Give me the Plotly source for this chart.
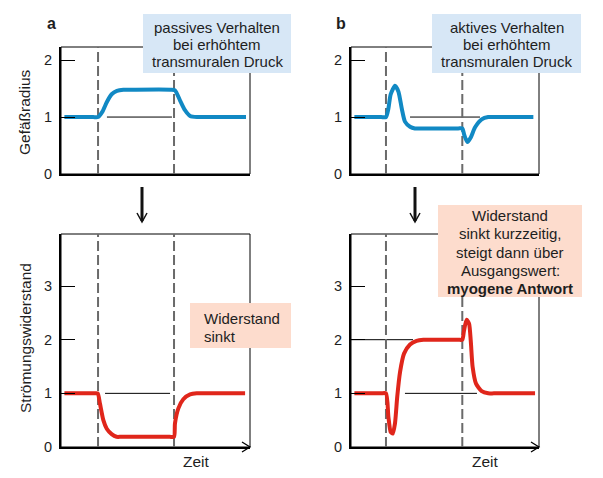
import plotly.graph_objects as go

# reference coordinate frame (px) and the page the screenshot actually captures
REF_W, REF_H = 603, 478
W, H = 603, 486

# ---------------- data ----------------
# panel a: vessel radius, passive behaviour
a_x = [0.18, 1.7, 1.96, 2.2, 2.42, 2.68, 2.96, 3.3, 3.6, 5.8, 6.03, 6.3, 6.56, 6.83, 7.2, 7.5, 9.79]
a_y = [1.0, 1.0, 1.0, 1.1, 1.26, 1.4, 1.46, 1.48, 1.48, 1.48, 1.47, 1.29, 1.12, 1.02, 1.0, 1.0, 1.0]
# panel b: vessel radius, active behaviour
b_x = [0.18, 1.6, 1.86, 1.99, 2.11, 2.34, 2.52, 2.70, 2.87, 3.14, 3.40, 3.7, 5.7, 5.92, 6.03, 6.19, 6.37, 6.60, 6.95, 7.30, 7.6, 9.70]
b_y = [1.0, 1.0, 1.0, 1.15, 1.4, 1.55, 1.45, 1.15, 0.92, 0.83, 0.8, 0.8, 0.8, 0.8, 0.68, 0.56, 0.64, 0.82, 0.96, 1.0, 1.0, 1.0]
# panel c: flow resistance, passive
c_x = [0.18, 1.7, 1.94, 2.06, 2.24, 2.42, 2.68, 2.94, 3.2, 5.75, 5.98, 6.03, 6.21, 6.47, 6.83, 7.18, 7.5, 9.74]
c_y = [1.0, 1.0, 1.0, 0.81, 0.5, 0.34, 0.24, 0.19, 0.19, 0.19, 0.19, 0.44, 0.72, 0.89, 0.98, 1.0, 1.0, 1.0]
# panel d: flow resistance, myogenic response
d_x = [0.18, 1.6, 1.86, 1.99, 2.11, 2.22, 2.34, 2.46, 2.61, 2.82, 3.14, 3.49, 3.85, 4.2, 5.7, 5.92, 6.01, 6.15, 6.28, 6.37, 6.47, 6.65, 6.95, 7.30, 7.6, 9.79]
d_y = [1.0, 1.0, 1.0, 0.56, 0.28, 0.25, 0.44, 0.94, 1.4, 1.74, 1.91, 1.98, 2.0, 2.0, 2.0, 2.0, 2.17, 2.37, 2.3, 1.98, 1.49, 1.18, 1.04, 1.0, 1.0, 1.0]

# event times (dashed vertical lines)
left_events = [1.96, 5.98]
right_events = [1.86, 5.92]

# thin reference lines: (x0, x1, level)
a_refs = [(2.43, 5.87, 1)]
b_refs = [(3.14, 6.86, 1)]
c_refs = [(2.33, 5.77, 1)]
d_refs = [(0.0, 3.3, 2), (2.87, 6.70, 1)]

top_ticks = [0, 1, 2]
bottom_ticks = [0, 1, 2, 3]
top_ymax = 2.23
bottom_ymax = 3.97

# box texts
text_a = ["passives Verhalten", "bei erhöhtem", "transmuralen Druck"]
text_b = ["aktives Verhalten", "bei erhöhtem", "transmuralen Druck"]
text_c = ["Widerstand", "sinkt"]
text_d = ["Widerstand", "sinkt kurzzeitig,", "steigt dann über", "Ausgangswert:", "<b>myogene Antwort</b>"]

BLUE = "#1189c4"
RED = "#e0261b"
BLUE_BOX = "#d7e7f6"
SALMON_BOX = "#fddccd"
TXT = "#1e1e1e"
FONT = "Liberation Sans"


def X(px):
    return px / REF_W


def Y(py):
    return 1 - py / REF_H


fig = go.Figure()

panels = [
    ("x", "y", (61, 250), (47, 174), top_ymax, top_ticks, left_events, a_refs, (a_x, a_y), BLUE),
    ("x2", "y2", (351, 539), (47, 174), top_ymax, top_ticks, right_events, b_refs, (b_x, b_y), BLUE),
    ("x3", "y3", (61, 250), (234, 447), bottom_ymax, bottom_ticks, left_events, c_refs, (c_x, c_y), RED),
    ("x4", "y4", (351, 539), (234, 447), bottom_ymax, bottom_ticks, right_events, d_refs, (d_x, d_y), RED),
]

shapes = []
for i, (xa, ya, xd, yd, ymax, ticks, events, refs, (cx, cy), col) in enumerate(panels):
    sfx = "" if i == 0 else str(i + 1)
    fig.update_layout(**{
        "xaxis" + sfx: dict(domain=[X(xd[0]), X(xd[1])], range=[0, 10], showline=True, linewidth=2,
                            linecolor="black", showticklabels=False, ticks="", showgrid=False,
                            zeroline=False, anchor=ya, fixedrange=True),
        "yaxis" + sfx: dict(domain=[Y(yd[1]), Y(yd[0])], range=[0, ymax], showline=True, linewidth=2,
                            linecolor="black", ticks="inside", ticklen=14, tickwidth=1, tickcolor="black",
                            tickvals=ticks, ticktext=[str(t) for t in ticks], showgrid=False, zeroline=False,
                            anchor=xa, tickfont=dict(family=FONT, size=14.5, color=TXT),
                            ticklabelstandoff=4, fixedrange=True),
    })
    shapes.append(dict(type="rect", xref=xa + " domain", yref=ya + " domain", x0=0, x1=1, y0=0, y1=1,
                       line=dict(color="black", width=1), layer="below"))
    for (x0, x1, lvl) in refs:
        fig.add_trace(go.Scatter(x=[x0, x1], y=[lvl, lvl], mode="lines", xaxis=xa, yaxis=ya,
                                 line=dict(color="black", width=1), hoverinfo="skip", showlegend=False))
    for ev in events:
        fig.add_trace(go.Scatter(x=[ev, ev], y=[0, ymax], mode="lines", xaxis=xa, yaxis=ya,
                                 line=dict(color="#6a6a6a", width=2, dash="10px,4px"),
                                 hoverinfo="skip", showlegend=False))
    fig.add_trace(go.Scatter(x=cx, y=cy, mode="lines", xaxis=xa, yaxis=ya,
                             line=dict(color=col, width=4, shape="spline", smoothing=0.6),
                             hoverinfo="skip", showlegend=False))

# arrow tips of the time axes
for tipx in (250, 539):
    shapes.append(dict(type="path", xref="paper", yref="paper",
                       path=f"M{X(tipx-8)},{Y(442)} L{X(tipx)},{Y(447)} L{X(tipx-8)},{Y(452)}",
                       line=dict(color="black", width=1.3)))

# downward arrows between the rows
for ax in (142, 415):
    shapes.append(dict(type="line", xref="paper", yref="paper", x0=X(ax), x1=X(ax), y0=Y(187), y1=Y(221),
                       line=dict(color="#111", width=3)))
    shapes.append(dict(type="path", xref="paper", yref="paper",
                       path=f"M{X(ax-5)},{Y(213)} L{X(ax)},{Y(222)} L{X(ax+5)},{Y(213)}",
                       line=dict(color="#111", width=1.5)))

# note boxes
boxes = [
    (143, 14, 291, 73, BLUE_BOX),
    (432, 14, 581, 73, BLUE_BOX),
    (190, 303, 291, 348, SALMON_BOX),
    (438, 205, 582, 297, SALMON_BOX),
]
for (x0, y0, x1, y1, c) in boxes:
    shapes.append(dict(type="rect", xref="paper", yref="paper", x0=X(x0), x1=X(x1), y0=Y(y1), y1=Y(y0),
                       fillcolor=c, line=dict(width=0), layer="above"))

fig.update_layout(shapes=shapes)

ann = []
fbox = dict(family=FONT, size=15, color=TXT)


def add_lines(lines, xc, ys, anchor="center"):
    for t, yy in zip(lines, ys):
        ann.append(dict(text=t, x=X(xc), y=Y(yy), xref="paper", yref="paper", xanchor=anchor,
                        yanchor="middle", showarrow=False, font=fbox))


add_lines(text_a, 217, [27.5, 44.5, 62])
add_lines(text_b, 506.5, [27.5, 44.5, 62])
add_lines(text_c, 202, [318, 336], anchor="left")
add_lines(text_d, 510, [215, 233.5, 252, 270, 288])

for lt, lx in (("a", 51), ("b", 341)):
    ann.append(dict(text=f"<b>{lt}</b>", x=X(lx), y=Y(23), xref="paper", yref="paper", xanchor="center",
                    yanchor="middle", showarrow=False, font=dict(family=FONT, size=16, color=TXT)))
ann.append(dict(text="Gefäßradius", x=X(25), y=Y(112), xref="paper", yref="paper", xanchor="center",
                yanchor="middle", textangle=-90, showarrow=False, font=dict(family=FONT, size=15.5, color=TXT)))
ann.append(dict(text="Strömungswiderstand", x=X(25), y=Y(338), xref="paper", yref="paper", xanchor="center",
                yanchor="middle", textangle=-90, showarrow=False, font=dict(family=FONT, size=15.5, color=TXT)))
for zx in (196, 485):
    ann.append(dict(text="Zeit", x=X(zx), y=Y(461), xref="paper", yref="paper", xanchor="center",
                    yanchor="middle", showarrow=False, font=dict(family=FONT, size=15.5, color=TXT)))

fig.update_layout(annotations=ann, width=W, height=H, margin=dict(l=0, r=0, t=0, b=0),
                  paper_bgcolor="white", plot_bgcolor="white", showlegend=False)

fig.write_html("out.html", config={"displayModeBar": False},
               post_script="document.body.style.margin='0';document.body.style.overflow='hidden';")
